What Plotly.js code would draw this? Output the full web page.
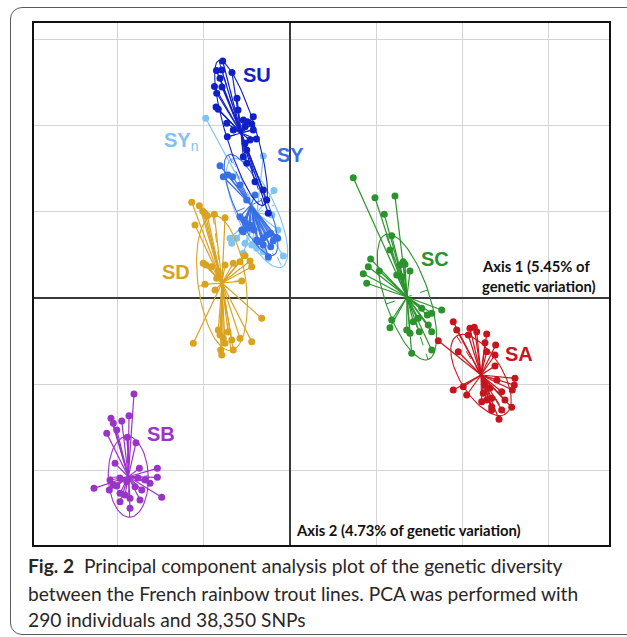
<!DOCTYPE html>
<html><head><meta charset="utf-8">
<script src="https://cdn.plot.ly/plotly-3.0.1.min.js"></script>
<style>
html,body{margin:0;padding:0;background:#fff;}
#wrap{position:relative;width:627px;height:637px;overflow:hidden;}
#chart{position:absolute;left:0;top:0;width:627px;height:637px;}
#frame{position:absolute;left:10px;top:7px;width:640px;height:628px;border:1.3px solid #5a5a5a;border-radius:12px;pointer-events:none;box-sizing:border-box;}
</style></head><body>
<div id="wrap"><div id="chart"></div><div id="frame"></div></div>
<script>
// ---- Data (PCA scores, axis units = grid spacing) ----
const groups = ['SYn','SY','SU','SD','SC','SA','SB'];
const centX = [-0.383,-0.452,-0.568,-0.789,1.357,2.216,-1.876];
const centY = [0.986,1.079,1.914,0.174,0.012,-0.893,-2.073];
const ellA = [0.69,0.638,0.88,0.789,0.766,0.534,0.47];
const ellB = [0.23,0.186,0.174,0.278,0.255,0.244,0.232];
const ellAngle = [-65.2,-65.8,-73,-82.4,-71.4,-58,-88];

const synX = [-0.978,-0.310,-0.186,-0.696,-0.618,-0.676,-0.522,-0.444,-0.386,-0.310,-0.252,-0.078,-0.542,-0.139,-0.209];
const synY = [2.085,1.647,1.247,0.693,0.693,0.635,0.635,0.615,0.577,0.537,0.461,0.487,0.519,0.789,0.963];

const syX = [-0.812,-0.774,-0.719,-0.665,-0.502,-0.519,-0.484,-0.418,-0.386,-0.270,-0.224,-0.162,-0.143,-0.194,-0.224,-0.252,-0.310,-0.368,-0.534,-0.580,-0.560,-0.464,-0.542,-0.310,-0.580,-0.406];
const syY = [1.535,1.407,1.427,1.407,1.137,0.874,0.809,0.789,0.673,0.731,0.751,0.704,0.693,0.665,0.595,0.479,0.615,0.653,0.905,0.943,0.789,0.847,0.769,0.693,1.311,1.195];

const suX = [-0.781,-0.853,-0.792,-0.673,-0.812,-0.876,-0.789,-0.850,-0.615,-0.858,-0.832,-0.426,-0.542,-0.495,-0.444,-0.522,-0.734,-0.658,-0.426,-0.727,-0.389,-0.464,-0.522,-0.502,-0.542,-0.502,-0.406,-0.310,-0.270,-0.252,-0.603];
const suY = [2.749,2.639,2.645,2.616,2.549,2.454,2.448,2.375,2.317,2.216,2.189,2.103,2.065,2.045,2.019,1.987,2.027,1.949,1.949,1.871,1.845,1.833,1.795,1.717,1.639,1.563,1.349,1.253,1.137,0.983,2.181];

const sdX = [-1.140,-1.052,-1.013,-0.986,-0.959,-0.878,-0.754,-1.102,-1.006,-0.974,-0.908,-0.754,-0.658,-0.580,-0.522,-0.464,-0.444,-0.986,-0.870,-0.560,-0.328,-1.122,-0.832,-0.812,-0.774,-0.676,-0.580,-0.444,-0.804,-0.658,-0.792,-0.754,-0.832,-0.850,-0.719];
const sdY = [1.110,1.071,1.009,0.983,0.955,0.971,0.932,0.847,0.403,0.383,0.363,0.383,0.403,0.421,0.491,0.429,0.363,0.159,0.093,0.197,-0.236,-0.526,-0.371,-0.429,-0.468,-0.487,-0.468,-0.507,-0.603,-0.603,-0.661,-0.526,0.305,0.229,-0.394];

const scX = [0.734,0.986,1.218,1.094,1.180,0.936,0.908,0.850,0.890,1.036,1.392,1.276,1.334,1.296,1.760,1.180,1.160,1.354,1.528,1.593,1.644,1.604,1.500,1.644,1.412,1.644,1.392,1.314,1.238,1.430,1.488,1.160];
const scY = [1.396,1.164,1.183,0.971,0.723,0.452,0.363,0.282,0.171,0.313,0.313,0.383,0.391,0.247,-0.139,-0.255,-0.345,-0.371,-0.119,-0.197,-0.177,-0.313,-0.391,-0.391,-0.642,-0.603,-0.410,0.421,0.267,-0.275,-0.236,0.557];

const saX = [1.894,1.934,1.720,2.088,2.138,2.166,2.068,2.282,2.262,2.386,1.952,2.282,2.378,2.378,1.894,2.010,2.050,2.610,2.602,2.579,2.456,2.340,2.282,2.340,2.572,2.456,2.340,2.425,2.242,2.262,2.494,2.224,2.320,2.401];
const saY = [-0.275,-0.371,-0.495,-0.352,-0.340,-0.391,-0.429,-0.418,-0.519,-0.545,-0.623,-0.623,-0.661,-0.789,-1.067,-1.029,-1.125,-0.932,-1.009,-1.067,-1.087,-1.164,-1.183,-1.261,-1.268,-1.299,-1.299,-1.407,-1.106,-1.009,-1.183,-1.203,-1.044,-0.951];

const sbX = [-1.810,-2.077,-2.050,-1.952,-1.868,-2.010,-2.126,-1.887,-1.787,-2.030,-1.748,-1.539,-1.539,-2.274,-2.088,-2.050,-2.010,-1.720,-1.624,-1.972,-1.914,-1.856,-1.740,-1.488,-1.972,-1.856,-2.096,-1.798,-1.682,-1.894,-1.972,-1.763];
const sbY = [-1.114,-1.396,-1.454,-1.427,-1.365,-1.531,-1.570,-1.616,-1.679,-1.918,-1.976,-1.976,-2.080,-2.208,-2.111,-2.169,-2.181,-2.227,-2.150,-2.266,-2.285,-2.324,-2.343,-2.312,-2.363,-2.440,-2.227,-2.189,-2.111,-2.131,-2.088,-2.088];

const axis1Label = 'Axis 1 (5.45% of';
const axis1Label2 = 'genetic variation)';
const axis2Label = 'Axis 2 (4.73% of genetic variation)';
const captionLines = [
  '<b>Fig. 2</b>  Principal component analysis plot of the genetic diversity',
  'between the French rainbow trout lines. PCA was performed with',
  '290 individuals and 38,350 SNPs'
];

// ---- Styling ----
const groupX = {SYn:synX, SY:syX, SU:suX, SD:sdX, SC:scX, SA:saX, SB:sbX};
const groupY = {SYn:synY, SY:syY, SU:suY, SD:sdY, SC:scY, SA:saY, SB:sbY};
const colors = {SYn:'#7fc3f0', SY:'#3a6ee3', SU:'#1020c4', SD:'#d9a21f', SC:'#2a932b', SA:'#c5161f', SB:'#9a33c8'};
const labelText = {SYn:'<b>SY</b><sub>n</sub>', SY:'<b>SY</b>', SU:'<b>SU</b>', SD:'<b>SD</b>', SC:'<b>SC</b>', SA:'<b>SA</b>', SB:'<b>SB</b>'};
const labelPos = {SYn:[-1.27,1.82], SY:[0.0,1.66], SU:[-0.383,2.587], SD:[-1.328,0.307], SC:[1.682,0.458], SA:[2.662,-0.644], SB:[-1.502,-1.578]};

function ellipse(cx,cy,a,b,deg){
  const t=deg*Math.PI/180, X=[], Y=[];
  for(let k=0;k<=90;k++){
    const s=2*Math.PI*k/90, u=a*Math.cos(s), v=b*Math.sin(s);
    X.push(cx+u*Math.cos(t)-v*Math.sin(t));
    Y.push(cy+u*Math.sin(t)+v*Math.cos(t));
  }
  return {X,Y};
}

const traces=[];
groups.forEach((g,i)=>{
  const cx=centX[i], cy=centY[i], col=colors[g];
  const xs=groupX[g], ys=groupY[g];
  const e=ellipse(cx,cy,ellA[i],ellB[i],ellAngle[i]);
  traces.push({x:e.X,y:e.Y,mode:'lines',line:{color:col,width:1.1},hoverinfo:'skip',showlegend:false});
  const t=ellAngle[i]*Math.PI/180;
  const ax=[cx-ellA[i]*Math.cos(t),cx+ellA[i]*Math.cos(t),null,cx+ellB[i]*Math.sin(t),cx-ellB[i]*Math.sin(t)];
  const ay=[cy-ellA[i]*Math.sin(t),cy+ellA[i]*Math.sin(t),null,cy-ellB[i]*Math.cos(t),cy+ellB[i]*Math.cos(t)];
  traces.push({x:ax,y:ay,mode:'lines',line:{color:col,width:1,dash:'dash'},hoverinfo:'skip',showlegend:false});
  const SX=[], SY=[];
  xs.forEach((x,k)=>{SX.push(cx,x,null); SY.push(cy,ys[k],null);});
  traces.push({x:SX,y:SY,mode:'lines',line:{color:col,width:1.2},hoverinfo:'skip',showlegend:false});
  traces.push({x:xs,y:ys,mode:'markers',marker:{color:col,size:7},name:g,showlegend:false});
});

const ann=[];
groups.forEach(g=>{
  ann.push({x:labelPos[g][0],y:labelPos[g][1],xref:'x',yref:'y',text:labelText[g],showarrow:false,
    font:{family:'Liberation Sans, Arial, sans-serif',size:20,color:colors[g]},xanchor:'center',yanchor:'middle'});
});
const axFont={family:'Lato, sans-serif',size:14.8,color:'#111'};
ann.push({x:2.205,y:0.37,xref:'x',yref:'y',text:'<b>'+axis1Label+'</b>',showarrow:false,font:axFont,xanchor:'left',yanchor:'middle'});
ann.push({x:2.205,y:0.145,xref:'x',yref:'y',text:'<b>'+axis1Label2+'</b>',showarrow:false,font:axFont,xanchor:'left',yanchor:'middle'});
ann.push({x:0.05,y:-2.691,xref:'x',yref:'y',text:'<b>'+axis2Label+'</b>',showarrow:false,font:axFont,xanchor:'left',yanchor:'middle'});
const capY=[-0.0402,-0.0920,-0.1418];
captionLines.forEach((c,i)=>{
  ann.push({x:-0.0139,y:capY[i],xref:'paper',yref:'paper',text:c,showarrow:false,
    font:{family:'Lato, sans-serif',size:19.2,color:'#2a2627'},xanchor:'left',yanchor:'middle'});
});

const axBase={dtick:1,tick0:0,showticklabels:false,ticks:'',showgrid:true,gridcolor:'#d4d4d4',gridwidth:1.3,
  zeroline:true,zerolinecolor:'#3a3a3a',zerolinewidth:1.5,showline:true,linecolor:'#111',linewidth:1.6,mirror:true,fixedrange:true};
const layout={
  width:627,height:637,margin:{l:34,r:18,t:23,b:92},
  paper_bgcolor:'rgba(0,0,0,0)',plot_bgcolor:'#fff',
  xaxis:Object.assign({range:[-2.970,3.701]},axBase),
  yaxis:Object.assign({range:[-2.865,3.190]},axBase),
  annotations:ann,showlegend:false
};
Plotly.newPlot('chart',traces,layout,{displayModeBar:false,staticPlot:true});
</script></body></html>
